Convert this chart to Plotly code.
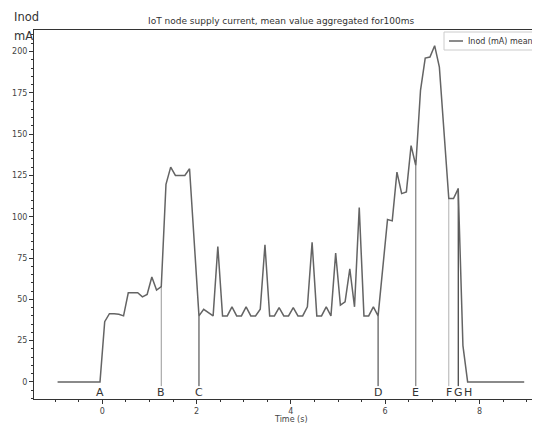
import plotly.graph_objects as go

# ---- data ----
time_s = [-0.95, -0.85, -0.75, -0.65, -0.55, -0.45, -0.35, -0.25, -0.15, -0.05,
          0.05, 0.15, 0.25, 0.35, 0.45, 0.55, 0.65, 0.75, 0.85, 0.95,
          1.05, 1.15, 1.25, 1.35, 1.45, 1.55, 1.65, 1.75, 1.85, 1.95,
          2.05, 2.15, 2.25, 2.35, 2.45, 2.55, 2.65, 2.75, 2.85, 2.95,
          3.05, 3.15, 3.25, 3.35, 3.45, 3.55, 3.65, 3.75, 3.85, 3.95,
          4.05, 4.15, 4.25, 4.35, 4.45, 4.55, 4.65, 4.75, 4.85, 4.95,
          5.05, 5.15, 5.25, 5.35, 5.45, 5.55, 5.65, 5.75, 5.85, 5.95,
          6.05, 6.15, 6.25, 6.35, 6.45, 6.55, 6.65, 6.75, 6.85, 6.95,
          7.05, 7.15, 7.25, 7.35, 7.45, 7.55, 7.65, 7.75, 7.85, 7.95,
          8.05, 8.15, 8.25, 8.35, 8.45, 8.55, 8.65, 8.75, 8.85, 8.95]

inod_mA = [0, 0, 0, 0, 0, 0, 0, 0, 0, 0,
           36.5, 41.3, 41.3, 41, 40, 54, 54, 54, 51.5, 53,
           63.5, 55.6, 57.7, 119.6, 130, 125, 125, 125, 129, 84.5,
           40, 44, 42, 40, 82, 40, 40, 45.5, 40, 40,
           45.5, 40, 40, 44, 83, 40, 40, 45, 40, 40,
           45, 40, 40, 45.5, 84.5, 40, 40, 45.5, 40, 78,
           46.5, 48.5, 68.5, 45.5, 105.5, 40, 40, 45.5, 40, 70,
           98.3, 97.5, 127, 114, 115, 143, 131, 176.5, 196, 196.6,
           203.5, 190.5, 151, 111, 111, 117, 22, 0, 0, 0,
           0, 0, 0, 0, 0, 0, 0, 0, 0, 0]

series_name = "Inod (mA) mean"

event_labels = ["A", "B", "C", "D", "E", "F", "G", "H"]
event_times = [-0.05, 1.25, 2.05, 5.85, 6.65, 7.35, 7.55, 7.75]
event_values = [0, 57.7, 40, 40, 131, 111, 117, 0]
event_colors = ["#444", "#999", "#333", "#333", "#666", "#b0b0b0", "#111", "#444"]

x_ticks = [0, 2, 4, 6, 8]
y_ticks = [0, 25, 50, 75, 100, 125, 150, 175, 200]

FONT = "DejaVu Sans"
CURVE_COLOR = "#646464"

fig = go.Figure()

# event vertical markers
for lab, t, v, c in zip(event_labels, event_times, event_values, event_colors):
    if v > 0:
        fig.add_trace(go.Scatter(x=[t, t], y=[-2.5, v], mode="lines",
                                 line=dict(color=c, width=1), showlegend=False,
                                 hoverinfo="skip"))

fig.add_trace(go.Scatter(x=time_s, y=inod_mA, mode="lines",
                         line=dict(color=CURVE_COLOR, width=1.5),
                         name=series_name, showlegend=False))

for lab, t in zip(event_labels, event_times):
    fig.add_annotation(x=t, y=-6.3, text=lab, showarrow=False,
                       font=dict(family=FONT, size=11, color="#333"),
                       xanchor="center", yanchor="middle")

# page body has an 8px default margin -> compensate
OFF = 8
PAGE_W, PAGE_H = 540, 426
W, H = PAGE_W - OFF, PAGE_H - OFF
# plot area in page pixels: x 34..540, y 30..399
L, R, T, B = 34 - OFF, 0, 30 - OFF, PAGE_H - 399
pw, ph = W - L - R, H - T - B

def px_x(p):
    return (p - OFF - L) / pw

def px_y(p):
    return (H - B - (p - OFF)) / ph

fig.add_annotation(xref="paper", yref="paper", x=px_x(12), y=px_y(17), text="Inod",
                   showarrow=False, xanchor="left", yanchor="middle",
                   font=dict(family=FONT, size=11.5, color="#333"))
fig.add_annotation(xref="paper", yref="paper", x=px_x(12), y=px_y(36), text="mA",
                   showarrow=False, xanchor="left", yanchor="middle",
                   font=dict(family=FONT, size=11.5, color="#333"))
fig.add_annotation(xref="paper", yref="paper", x=px_x(281), y=px_y(21),
                   text="IoT node supply current, mean value aggregated for100ms",
                   showarrow=False, xanchor="center", yanchor="middle",
                   font=dict(family=FONT, size=9, color="#333"))
fig.add_annotation(xref="paper", yref="paper", x=px_x(291), y=px_y(419),
                   text="Time (s)",
                   showarrow=False, xanchor="center", yanchor="middle",
                   font=dict(family=FONT, size=8, color="#444"))

# legend (drawn as box + line sample + text so it can run to the page edge)
fig.add_shape(type="rect", xref="paper", yref="paper",
              x0=px_x(444), x1=px_x(560), y0=px_y(50), y1=px_y(32),
              line=dict(color="#cccccc", width=1), fillcolor="rgba(255,255,255,0.9)")
fig.add_shape(type="line", xref="paper", yref="paper",
              x0=px_x(449), x1=px_x(463), y0=px_y(41), y1=px_y(41),
              line=dict(color=CURVE_COLOR, width=1.5))
fig.add_annotation(xref="paper", yref="paper", x=px_x(466), y=px_y(41),
                   text=series_name, showarrow=False, xanchor="left", yanchor="middle",
                   font=dict(family=FONT, size=8, color="#333"))

fig.update_layout(
    width=W, height=H,
    margin=dict(l=L, r=R, t=T, b=B, pad=0, autoexpand=False),
    paper_bgcolor="white", plot_bgcolor="white",
    font=dict(family=FONT, size=8, color="#444"),
    showlegend=False,
    xaxis=dict(range=[-1.45, 9.285], tickvals=x_ticks, ticks="outside", ticklen=4,
               tickcolor="#333", showline=True, linecolor="#333", linewidth=1,
               mirror=True, showgrid=False, zeroline=False, automargin=False,
               minor=dict(dtick=0.5, tick0=0, ticks="outside", ticklen=2, tickcolor="#333"),
               tickfont=dict(family=FONT, size=8, color="#444")),
    yaxis=dict(range=[-10.3, 213], tickvals=y_ticks, ticks="outside", ticklen=4,
               tickcolor="#333", showline=True, linecolor="#333", linewidth=1,
               mirror=False, showgrid=False, zeroline=False, automargin=False,
               minor=dict(dtick=5, tick0=0, ticks="outside", ticklen=2, tickcolor="#333"),
               tickfont=dict(family=FONT, size=8, color="#444")),
)

fig.write_html("out.html")
